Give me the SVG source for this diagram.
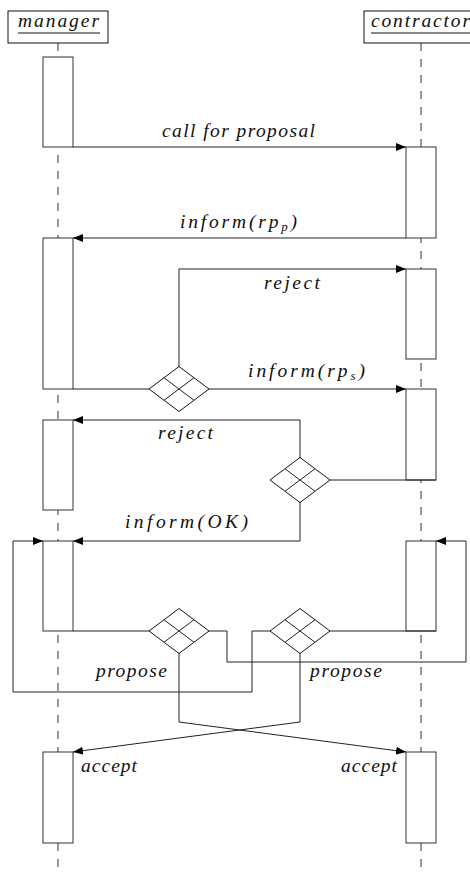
<svg xmlns="http://www.w3.org/2000/svg" width="470" height="873" viewBox="0 0 470 873">
<style>
  .life{stroke:#555;stroke-width:1.2;stroke-dasharray:8 8;fill:none}
  .act{fill:#fff;stroke:#333;stroke-width:1}
  .conn{fill:none;stroke:#222;stroke-width:1}
  .dia{fill:#fff;stroke:#111;stroke-width:1}
  .lbl{font-family:"Liberation Serif",serif;font-style:italic;font-size:19.5px;fill:#111}
  .sub{font-size:13px}
</style>
<defs>
  <marker id="ah" viewBox="0 0 10 8" refX="10" refY="4" markerWidth="10" markerHeight="8" markerUnits="userSpaceOnUse" orient="auto">
    <path d="M0,0 L10,4 L0,8 Z" fill="#000"/>
  </marker>
</defs>

<g id="lifelines">
  <line class="life" x1="58" y1="43" x2="58" y2="873"/>
  <line class="life" x1="421" y1="43" x2="421" y2="873"/>
</g>

<g id="manager">
  <rect x="8" y="11" width="100" height="32" fill="#fff" stroke="#111" stroke-width="1"/>
  <text class="lbl" x="18" y="27" textLength="81" lengthAdjust="spacing">manager</text>
  <line x1="18" y1="33" x2="100" y2="33" stroke="#111" stroke-width="1"/>
</g>
<g id="contractor">
  <rect x="364" y="11" width="120" height="32" fill="#fff" stroke="#111" stroke-width="1"/>
  <text class="lbl" x="371" y="27" textLength="99" lengthAdjust="spacing">contractor</text>
  <line x1="371" y1="33" x2="470" y2="33" stroke="#111" stroke-width="1"/>
</g>

<g id="manager-activations">
  <rect id="m1" class="act" x="43" y="57" width="30" height="90"/>
  <rect id="m2" class="act" x="43" y="238" width="30" height="151"/>
  <rect id="m3" class="act" x="43" y="420" width="30" height="90"/>
  <rect id="m4" class="act" x="43" y="541" width="30" height="90"/>
  <rect id="m5" class="act" x="43" y="752" width="30" height="91"/>
</g>
<g id="contractor-activations">
  <rect id="c1" class="act" x="406" y="147" width="30" height="91"/>
  <rect id="c2" class="act" x="406" y="269" width="30" height="90"/>
  <rect id="c3" class="act" x="406" y="389" width="30" height="91"/>
  <rect id="c4" class="act" x="406" y="541" width="30" height="90"/>
  <rect id="c5" class="act" x="406" y="752" width="30" height="91"/>
</g>

<g id="connectors">
  <path class="conn" d="M73,147 H406" marker-end="url(#ah)"/>
  <path class="conn" d="M406,238 H73" marker-end="url(#ah)"/>
  <path class="conn" d="M179,367 V269 H406" marker-end="url(#ah)"/>
  <path class="conn" d="M73,389 H149"/>
  <path class="conn" d="M209,389 H406" marker-end="url(#ah)"/>
  <path class="conn" d="M436,480 H330"/>
  <path class="conn" d="M300,458 V420 H73" marker-end="url(#ah)"/>
  <path class="conn" d="M300,502 V541 H73" marker-end="url(#ah)"/>
  <path class="conn" d="M73,631 H149"/>
  <path class="conn" d="M436,631 H330"/>
  <path class="conn" d="M209,631 H227 V662 H466 V541 H436" marker-end="url(#ah)"/>
  <path class="conn" d="M270,631 H252 V692 H13 V541 H43" marker-end="url(#ah)"/>
  <path class="conn" d="M179,653 V722 L406,752" marker-end="url(#ah)"/>
  <path class="conn" d="M300,653 V722 L73,752" marker-end="url(#ah)"/>
</g>

<g id="xor1">
  <polygon class="dia" points="179,366.5 209,389 179,411.5 149,389"/>
  <path class="conn" d="M164,377.75 L194,400.25 M194,377.75 L164,400.25"/>
</g>
<g id="xor2">
  <polygon class="dia" points="300,457.5 330,480 300,502.5 270,480"/>
  <path class="conn" d="M285,468.75 L315,491.25 M315,468.75 L285,491.25"/>
</g>
<g id="xor3">
  <polygon class="dia" points="179,608.5 209,631 179,653.5 149,631"/>
  <path class="conn" d="M164,619.75 L194,642.25 M194,619.75 L164,642.25"/>
</g>
<g id="xor4">
  <polygon class="dia" points="300,608.5 330,631 300,653.5 270,631"/>
  <path class="conn" d="M285,619.75 L315,642.25 M315,619.75 L285,642.25"/>
</g>

<g id="labels">
  <text class="lbl" x="162" y="137" textLength="153" lengthAdjust="spacing">call for proposal</text>
  <text class="lbl" x="180" y="228" textLength="117" lengthAdjust="spacing">inform(rp<tspan class="sub" dy="3">p</tspan><tspan dy="-3">)</tspan></text>
  <text class="lbl" x="264" y="289" textLength="56" lengthAdjust="spacing">reject</text>
  <text class="lbl" x="248" y="377" textLength="117" lengthAdjust="spacing">inform(rp<tspan class="sub" dy="3">s</tspan><tspan dy="-3">)</tspan></text>
  <text class="lbl" x="158" y="439" textLength="55" lengthAdjust="spacing">reject</text>
  <text class="lbl" x="125" y="528" textLength="123" lengthAdjust="spacing">inform(OK)</text>
  <text class="lbl" x="96" y="677" textLength="71" lengthAdjust="spacing">propose</text>
  <text class="lbl" x="310" y="677" textLength="72" lengthAdjust="spacing">propose</text>
  <text class="lbl" x="81" y="772" textLength="56" lengthAdjust="spacing">accept</text>
  <text class="lbl" x="341" y="772" textLength="56" lengthAdjust="spacing">accept</text>
</g>
</svg>
